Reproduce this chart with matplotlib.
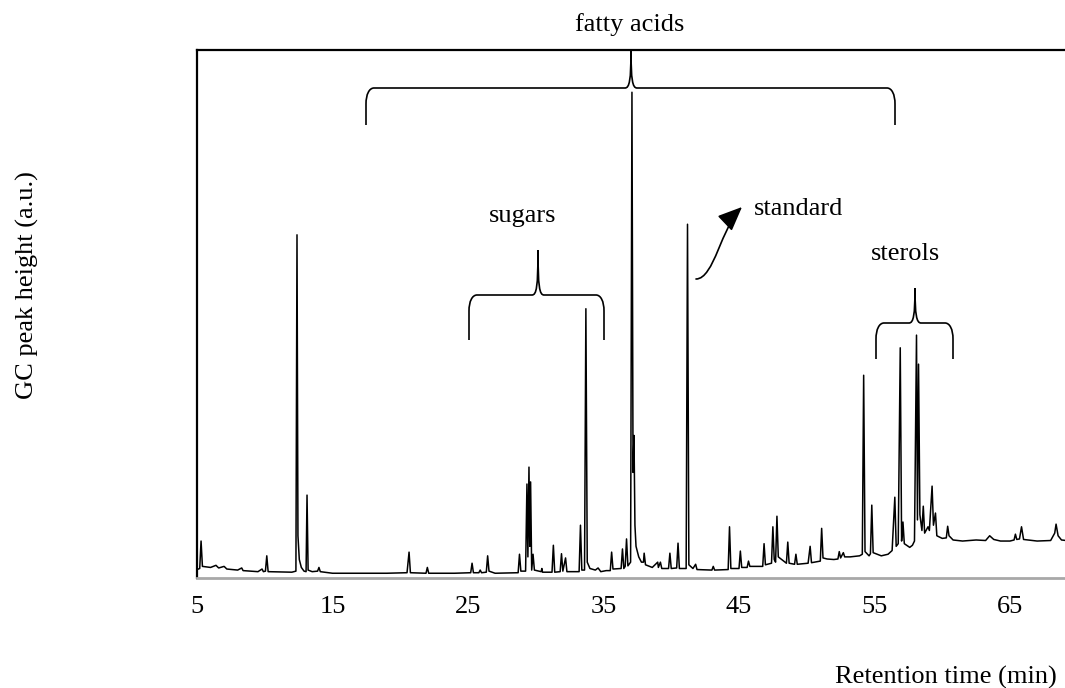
import numpy as np
import matplotlib
matplotlib.use("Agg")
import matplotlib.pyplot as plt
from matplotlib.path import Path
from matplotlib.patches import PathPatch, FancyArrowPatch

plt.rcParams['font.family'] = ['Liberation Serif', 'DejaVu Serif']

# ---- data: chromatogram trace (retention time, min ; peak height, a.u.) ----
time_min = [
    5.0, 5.2, 5.3, 5.4, 6.0, 6.4, 6.6, 7.0, 7.2, 8.0, 8.3, 8.4, 9.5, 9.8, 9.9,
    10.05, 10.15, 10.25, 12.0, 12.3, 12.38, 12.45, 12.55, 12.7, 12.9,
    13.05, 13.12, 13.2, 13.5, 13.9, 14.0, 14.1, 15.0, 17.0, 19.0,
    20.5, 20.65, 20.75, 21.9, 22.0, 22.1, 24.0,
    25.2, 25.3, 25.4, 25.8, 25.9, 26.0, 26.35, 26.45, 26.55, 27.0,
    28.7, 28.8, 28.9, 29.25, 29.35, 29.42, 29.5, 29.56, 29.62, 29.7, 29.8, 29.9,
    30.4, 30.45, 30.5, 31.2, 31.3, 31.4, 31.8, 31.9, 32.0, 32.2, 32.3,
    33.2, 33.3, 33.4, 33.6, 33.7, 33.8, 34.0, 34.4, 34.6, 34.8, 35.2, 35.5,
    35.6, 35.7, 36.3, 36.4, 36.5, 36.6, 36.7, 36.8,
    37.0, 37.1, 37.18, 37.25, 37.32, 37.4, 37.6, 37.8, 37.95, 38.0, 38.1, 38.6,
    39.0, 39.05, 39.2, 39.3, 39.8, 39.9, 40.0, 40.4, 40.5, 40.6,
    41.1, 41.2, 41.3, 41.6, 41.8, 41.9, 43.0, 43.1, 43.2,
    44.2, 44.3, 44.4, 45.0, 45.1, 45.2, 45.6, 45.7, 45.8,
    46.75, 46.85, 46.95, 47.4, 47.5, 47.6, 47.7, 47.8, 47.9,
    48.5, 48.6, 48.7, 49.1, 49.2, 49.3, 50.1, 50.25, 50.35,
    51.0, 51.1, 51.2, 51.5, 52.0, 52.3, 52.4, 52.5, 52.7, 52.8, 53.2,
    53.9, 54.1, 54.2, 54.3, 54.6, 54.7, 54.8, 54.9, 55.5, 56.0,
    56.3, 56.5, 56.6, 56.75, 56.9, 57.0, 57.1, 57.2, 57.6, 57.8,
    57.95, 58.1, 58.17, 58.25, 58.35, 58.5, 58.6, 58.7, 58.95, 59.05, 59.25,
    59.35, 59.5, 59.6, 60.0, 60.3, 60.4, 60.5, 60.8,
    61.5, 62.5, 63.2, 63.5, 63.8, 64.3, 65.0, 65.3, 65.4, 65.5, 65.7, 65.85,
    66.0, 67.0, 68.0, 68.3, 68.4, 68.55, 68.8, 69.5,
]
signal = [
    1.6, 1.8, 7.0, 2.2, 2.0, 2.4, 1.9, 2.2, 1.7, 1.5, 1.9, 1.4, 1.2, 1.7, 1.2,
    1.3, 4.2, 1.2, 1.1, 1.3, 65.0, 8.0, 3.5, 2.0, 1.3,
    1.2, 15.7, 1.5, 1.2, 1.3, 2.0, 1.2, 0.9, 0.9, 0.9,
    1.0, 4.9, 1.0, 0.9, 2.0, 0.9, 0.9,
    1.0, 2.8, 1.0, 1.0, 1.5, 1.0, 1.1, 4.2, 1.3, 0.9,
    1.0, 4.5, 1.3, 1.3, 17.8, 4.0, 21.0, 6.0, 18.2, 1.5, 4.5, 1.5,
    1.2, 1.8, 1.1, 1.1, 6.2, 1.1, 1.2, 4.6, 1.3, 3.8, 1.2,
    1.2, 10.0, 1.5, 1.5, 51.0, 3.0, 1.8, 1.5, 1.9, 1.2, 1.4, 1.4,
    4.9, 1.7, 1.8, 5.5, 1.8, 2.2, 7.4, 2.3,
    3.0, 92.0, 20.0, 27.0, 10.0, 6.0, 4.0, 3.0, 3.0, 4.7, 2.5, 2.0,
    3.0, 2.0, 3.0, 1.8, 1.8, 4.7, 1.8, 1.9, 6.6, 1.8,
    1.8, 67.0, 2.5, 1.8, 2.6, 1.6, 1.5, 2.2, 1.5,
    1.6, 9.7, 1.8, 1.8, 5.1, 2.0, 2.0, 3.2, 2.2,
    2.2, 6.5, 2.5, 2.8, 9.7, 3.5, 3.0, 11.7, 4.0,
    2.8, 6.8, 2.8, 2.6, 4.5, 2.6, 2.8, 6.0, 2.9,
    3.2, 9.4, 3.8, 3.6, 3.5, 3.6, 5.0, 3.8, 4.8, 4.0, 4.0,
    4.2, 4.5, 38.4, 5.0, 4.2, 4.6, 13.8, 4.8, 4.2, 4.5,
    5.2, 15.3, 6.0, 6.5, 43.6, 7.0, 10.6, 6.5, 5.8, 6.2,
    7.0, 46.0, 11.0, 40.5, 12.0, 9.0, 13.6, 8.5, 9.7, 9.0, 17.4,
    10.0, 12.3, 8.0, 7.5, 7.6, 9.8, 8.0, 7.2,
    7.0, 7.2, 7.1, 8.0, 7.3, 7.0, 7.0, 7.2, 8.3, 7.3, 7.4, 9.7,
    7.3, 7.0, 7.1, 8.5, 10.2, 8.0, 7.2, 7.0,
]
xticks = [5, 15, 25, 35, 45, 55, 65]
xlabel = "Retention time (min)"
ylabel = "GC peak height (a.u.)"

W, H = 1065, 688
fig = plt.figure(figsize=(W / 100, H / 100), dpi=100)
ax = fig.add_axes([197 / W, 1 - 578 / H, 1 - 197 / W, (578 - 50) / H])
ax.plot(time_min, signal, color='black', lw=1.1)
ax.set_xlim(5, 5 + (W - 197) / 13.55)
ax.set_ylim(0, 100)
ax.set_xticks(xticks)
ax.set_xticklabels([str(t) for t in xticks])
ax.set_yticks([])
ax.tick_params(axis='x', length=0, pad=13, labelsize=19)
for s in ['left', 'top']:
    ax.spines[s].set_color('black')
    ax.spines[s].set_linewidth(1.6)
ax.spines['right'].set_visible(False)
ax.spines['bottom'].set_color('#a8a8a8')
ax.spines['bottom'].set_linewidth(2.0)

fig.text(946 / W, 1 - 677 / H, xlabel, fontsize=19, ha='center', va='center')
fig.text(27 / W, 1 - 285 / H, ylabel, fontsize=19, ha='center', va='center',
         rotation=90)

# ---- overlay in pixel coordinates for annotations ----
ov = fig.add_axes([0, 0, 1, 1])
ov.set_xlim(0, W)
ov.set_ylim(H, 0)
ov.axis('off')
ov.patch.set_alpha(0)


def brace(x0, x1, xm, yb, yh, yt, rx=7, ry=14):
    v = [(x0, yb), (x0, yh + ry),
         (x0, yh + ry * 0.4), (x0 + rx * 0.4, yh), (x0 + rx, yh),
         (xm - 6, yh),
         (xm - 1.5, yh), (xm, yh - 8), (xm, yt),
         (xm, yh - 8), (xm + 1.5, yh), (xm + 6, yh),
         (x1 - rx, yh),
         (x1 - rx * 0.4, yh), (x1, yh + ry * 0.4), (x1, yh + ry),
         (x1, yb)]
    c = [Path.MOVETO, Path.LINETO,
         Path.CURVE4, Path.CURVE4, Path.CURVE4,
         Path.LINETO,
         Path.CURVE4, Path.CURVE4, Path.CURVE4,
         Path.CURVE4, Path.CURVE4, Path.CURVE4,
         Path.LINETO,
         Path.CURVE4, Path.CURVE4, Path.CURVE4,
         Path.LINETO]
    ov.add_patch(PathPatch(Path(v, c), fill=False, edgecolor='black', lw=1.2))


brace(366, 895, 631, 125, 88, 50, rx=8, ry=16)
brace(469, 604, 538, 340, 295, 250, rx=8, ry=16)
brace(876, 953, 915, 359, 323, 288, rx=8, ry=16)

ov.text(630, 25, "fatty acids", fontsize=19, ha='center', va='center')
ov.text(523, 216, "sugars", fontsize=19, ha='center', va='center')
ov.text(754, 209, "standard", fontsize=19, ha='left', va='center')
ov.text(905, 254, "sterols", fontsize=19, ha='center', va='center')

arrow_path = Path([(696, 279), (714, 279), (722, 226), (742, 207)],
                  [Path.MOVETO, Path.CURVE4, Path.CURVE4, Path.CURVE4])
ov.add_patch(FancyArrowPatch(path=arrow_path,
                             arrowstyle='-|>,head_length=0.75,head_width=0.32',
                             mutation_scale=20, color='black', lw=1.2))

fig.savefig('out.png', dpi=100)
